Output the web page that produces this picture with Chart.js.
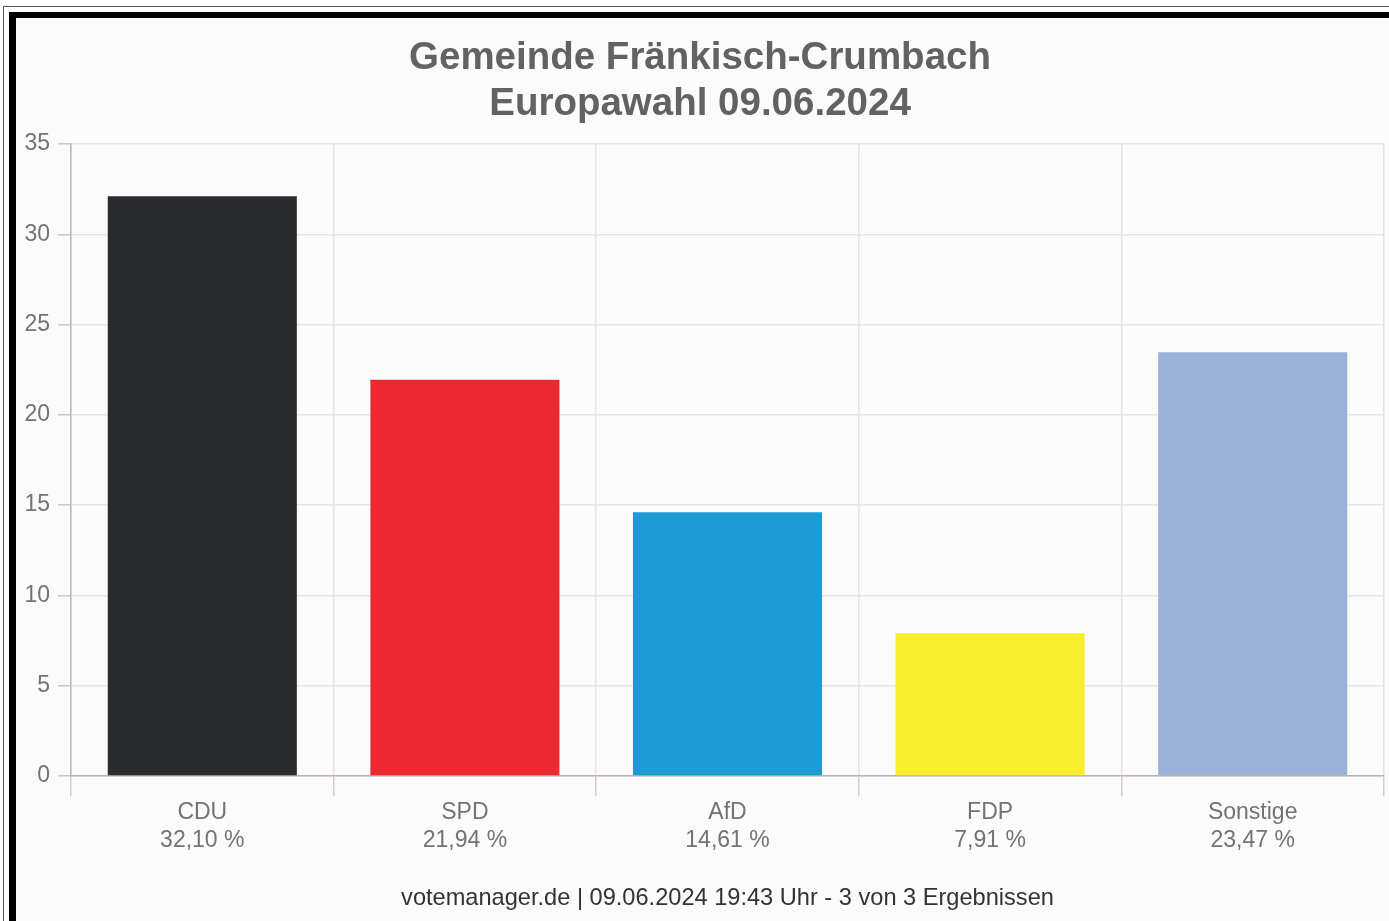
<!DOCTYPE html>
<html>
<head>
<meta charset="utf-8">
<script src="https://cdn.jsdelivr.net/npm/chart.js@4/dist/chart.umd.min.js"></script>
<style>
  html, body { margin: 0; padding: 0; background: #ffffff; width: 1389px; height: 921px; overflow: hidden; position: relative; }
  #outer { position: absolute; left: 3px; top: 6px; right: -20px; bottom: -20px; border-top: 1px solid #555; border-left: 1px solid #555; }
  #frame { position: absolute; left: 9px; top: 12px; right: -20px; bottom: -20px; border-top: 6px solid #000; border-left: 7px solid #000; background: #fbfbfb; }
  #c { position: absolute; left: 16px; top: 18px; }
</style>
</head>
<body>
<div id="outer"></div>
<div id="frame"></div>
<canvas id="c" width="1373" height="903"></canvas>
<script>
const titleLines = ['Gemeinde Fränkisch-Crumbach', 'Europawahl 09.06.2024'];
const parties = ['CDU', 'SPD', 'AfD', 'FDP', 'Sonstige'];
const shares = [32.10, 21.94, 14.61, 7.91, 23.47];
const barColors = ['#2a2b2f', '#ec2830', '#1e9ad6', '#f8ee2e', '#9ab2d8'];
const footerText = 'votemanager.de | 09.06.2024 19:43 Uhr - 3 von 3 Ergebnissen';
const yMin = 0, yMax = 35, yStep = 5;

const xLabels = parties.map((p, i) => [p, shares[i].toFixed(2).replace('.', ',') + ' %']);
const FONT = 'Liberation Sans, Arial, Helvetica, sans-serif';

new Chart(document.getElementById('c'), {
  type: 'bar',
  data: {
    labels: xLabels,
    datasets: [{
      data: shares,
      backgroundColor: barColors,
      borderWidth: 0,
      barPercentage: 0.72,
      categoryPercentage: 1.0
    }]
  },
  options: {
    responsive: false,
    animation: false,
    devicePixelRatio: 1,
    layout: { padding: { left: 0, right: 5, top: 0, bottom: 0 } },
    plugins: {
      legend: { display: false },
      tooltip: { enabled: false },
      title: {
        display: true,
        text: titleLines,
        color: '#626262',
        font: { family: FONT, size: 38.5, weight: 'bold', lineHeight: 46 / 38.5 },
        padding: { top: 17, bottom: 17 }
      }
    },
    scales: {
      x: {
        offset: true,
        grid: {
          offset: true,
          color: '#e4e4e4',
          tickColor: '#d2cccc',
          tickLength: 20,
          lineWidth: 1.5
        },
        border: { color: '#bfb0ac', width: 1.5 },
        ticks: {
          color: '#737373',
          font: { family: FONT, size: 23, lineHeight: 28 / 23 },
          padding: 3,
          maxRotation: 0,
          autoSkip: false
        },
        title: {
          display: true,
          text: footerText,
          color: '#333333',
          font: { family: FONT, size: 23.6, lineHeight: 28 / 23.6 },
          padding: { top: 0, bottom: 9 }
        },
        afterFit: (s) => { s.height = 145; }
      },
      y: {
        min: yMin,
        max: yMax,
        grid: {
          color: '#e6e6e6',
          tickColor: '#cfc4c4',
          tickLength: 13,
          lineWidth: 1.5
        },
        border: { color: '#c4b4b0', width: 1.5 },
        ticks: {
          stepSize: yStep,
          color: '#737373',
          font: { family: FONT, size: 23 },
          padding: 8
        },
        afterFit: (s) => { s.width = 55; }
      }
    }
  }
});
</script>
</body>
</html>
